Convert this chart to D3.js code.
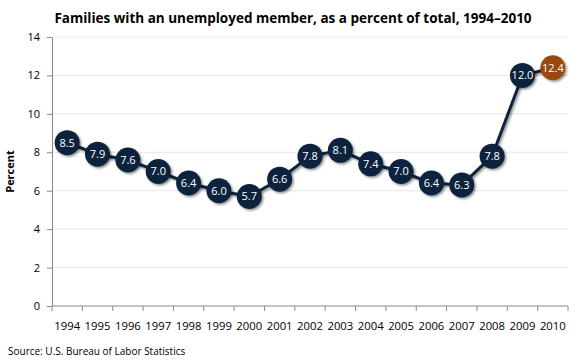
<!DOCTYPE html>
<html><head><meta charset="utf-8">
<script src="https://cdn.jsdelivr.net/npm/d3@7"></script>
<style>body{margin:0;background:#fff;}svg{display:block;}</style>
</head><body>
<svg id="c" width="580" height="360"></svg>
<script>
const years = ["1994","1995","1996","1997","1998","1999","2000","2001","2002","2003","2004","2005","2006","2007","2008","2009","2010"];
const values = [8.5,7.9,7.6,7.0,6.4,6.0,5.7,6.6,7.8,8.1,7.4,7.0,6.4,6.3,7.8,12.0,12.4];
const yTicks = [0,2,4,6,8,10,12,14];
const highlightYear = "2010";

(function(){
const svg = d3.select("#c");
const font = "'Open Sans', 'Noto Sans', sans-serif";
const mL = 52, mR = 568, mT = 37, mB = 306;

const x = d3.scaleBand().domain(years).range([mL, mR]);
const y = d3.scaleLinear().domain([0, 14]).range([mB, mT]);

const defs = svg.append("defs");
const f = defs.append("filter").attr("id","sh").attr("x","-50%").attr("y","-50%").attr("width","200%").attr("height","200%");
f.append("feDropShadow").attr("dx",1.5).attr("dy",1.5).attr("stdDeviation",1.2).attr("flood-color","#000").attr("flood-opacity",0.45);

// gridlines
svg.append("g").selectAll("line").data(yTicks.filter(d=>d>0)).join("line")
  .attr("x1", mL).attr("x2", mR).attr("y1", d=>y(d)).attr("y2", d=>y(d))
  .attr("stroke", "#e6e6e6").attr("stroke-width", 1);

// y axis
const ya = svg.append("g").attr("transform", `translate(${mL},0)`)
  .call(d3.axisLeft(y).tickValues(yTicks).tickSize(5).tickPadding(7).tickSizeOuter(0));
ya.select(".domain").attr("stroke", "#888");
ya.selectAll(".tick line").attr("stroke", "#888");
ya.selectAll("text").attr("font-family", font).attr("font-size", 11).attr("fill", "#000");

// x axis
const xa = svg.append("g").attr("transform", `translate(0,${mB})`)
  .call(d3.axisBottom(x).tickSize(0).tickPadding(16));
xa.select(".domain").attr("stroke", "#888").attr("d", `M${mL},0H${mR}`);
xa.selectAll("text").attr("font-family", font).attr("font-size", 11.3).attr("fill", "#000");
const bounds = years.map(d => x(d)).concat([mR]);
xa.append("g").selectAll("line").data(bounds).join("line")
  .attr("x1", d=>d).attr("x2", d=>d).attr("y1", 0).attr("y2", 5).attr("stroke", "#888");

// line
const line = d3.line().x((d,i)=>x(years[i]) + x.bandwidth()/2).y(d=>y(d));
svg.append("path").datum(values).attr("d", line).attr("fill","none")
  .attr("stroke","#0f243e").attr("stroke-width",3).attr("filter","url(#sh)");

// points
const pts = svg.append("g").selectAll("g").data(values).join("g")
  .attr("transform", (d,i)=>`translate(${x(years[i]) + x.bandwidth()/2},${y(d)})`);
pts.append("circle").attr("r", 12.5)
  .attr("fill", (d,i)=> years[i]===highlightYear ? "#984807" : "#0f243e")
  .attr("filter","url(#sh)");
pts.append("text").text(d=>d.toFixed(1)).attr("text-anchor","middle").attr("dy","0.36em")
  .attr("font-family", font).attr("font-size", 11).attr("fill","#fff");

// title
svg.append("text").attr("x", 293).attr("y", 23).attr("text-anchor","middle")
  .attr("font-family", font).attr("font-weight","bold").attr("font-size", 13.5)
  .text("Families with an unemployed member, as a percent of total, 1994\u20132010");

// y label
svg.append("text").attr("transform", `translate(14,${(mT+mB)/2}) rotate(-90)`)
  .attr("text-anchor","middle").attr("font-family", font).attr("font-weight","bold").attr("font-size", 11)
  .text("Percent");

// source
svg.append("text").attr("x", 8).attr("y", 355).attr("font-family", font).attr("font-size", 10)
  .text("Source: U.S. Bureau of Labor Statistics");
})();
</script>
</body></html>
